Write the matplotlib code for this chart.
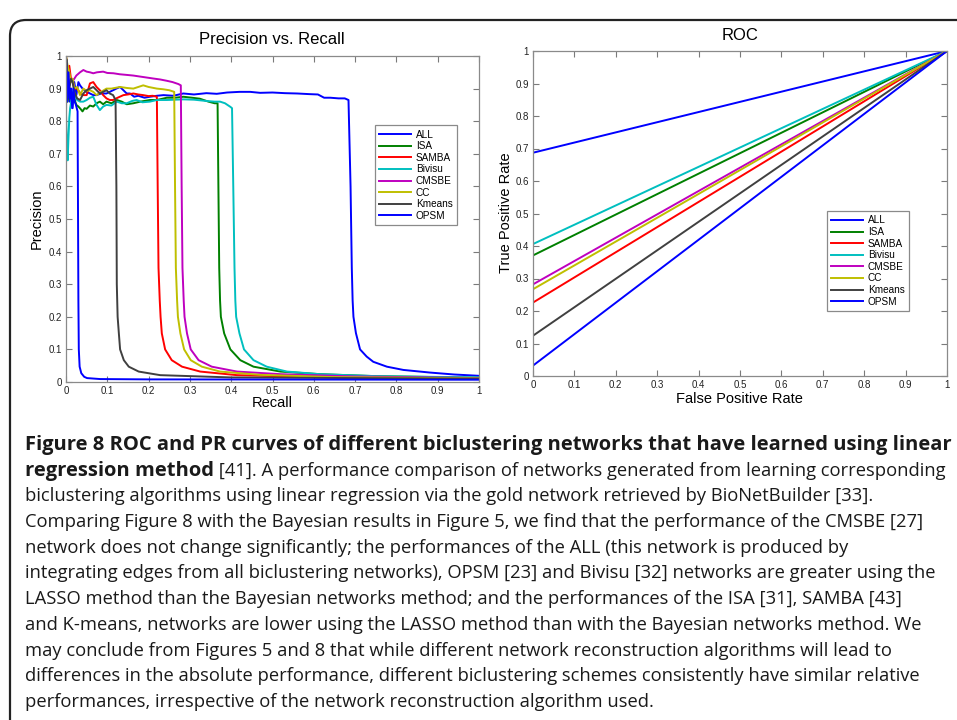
import matplotlib
matplotlib.use("Agg")
import matplotlib.pyplot as plt
from matplotlib import font_manager
from matplotlib.patches import FancyBboxPatch
from matplotlib.transforms import IdentityTransform

# ---- data ----
methods = ["ALL", "ISA", "SAMBA", "Bivisu", "CMSBE", "CC", "Kmeans", "OPSM"]

all_r = [0, 0.003, 0.006, 0.009, 0.012, 0.016, 0.02, 0.025, 0.03, 0.034, 0.04, 0.05, 0.058, 0.066,
         0.074, 0.085, 0.098, 0.106, 0.114, 0.122, 0.131, 0.139, 0.147, 0.155, 0.165, 0.175, 0.19,
         0.203, 0.22, 0.236, 0.26, 0.284, 0.31, 0.34, 0.365, 0.39, 0.42, 0.446, 0.47, 0.5, 0.53,
         0.56, 0.59, 0.61, 0.625, 0.64, 0.66, 0.675, 0.684, 0.689, 0.692, 0.694, 0.696, 0.702,
         0.712, 0.728, 0.744, 0.777, 0.817, 0.881, 0.94, 1.0]
all_p = [1.0, 0.88, 0.93, 0.86, 0.9, 0.84, 0.92, 0.88, 0.92, 0.91, 0.9, 0.89, 0.885, 0.88,
         0.88, 0.885, 0.885, 0.89, 0.895, 0.9, 0.905, 0.895, 0.885, 0.885, 0.875, 0.878, 0.872,
         0.875, 0.878, 0.88, 0.878, 0.885, 0.882, 0.886, 0.884, 0.888, 0.89, 0.89, 0.887, 0.888, 0.886,
         0.885, 0.883, 0.882, 0.872, 0.872, 0.87, 0.87, 0.865, 0.6, 0.35, 0.25, 0.2, 0.15,
         0.1, 0.078, 0.062, 0.047, 0.037, 0.029, 0.023, 0.019]

isa_r = [0, 0.004, 0.008, 0.012, 0.016, 0.02, 0.025, 0.03, 0.035, 0.04, 0.045, 0.05, 0.058, 0.066,
         0.074, 0.082, 0.09, 0.098, 0.11, 0.123, 0.135, 0.147, 0.163, 0.18, 0.203, 0.22, 0.244,
         0.265, 0.284, 0.305, 0.324, 0.345, 0.36, 0.367, 0.369, 0.371, 0.373, 0.375, 0.383, 0.398,
         0.422, 0.454, 0.519, 0.615, 0.75, 1.0]
isa_p = [1.0, 0.86, 0.9, 0.88, 0.86, 0.87, 0.85, 0.845, 0.838, 0.83, 0.84, 0.838, 0.848, 0.845,
         0.855, 0.86, 0.852, 0.86, 0.855, 0.865, 0.86, 0.852, 0.855, 0.86, 0.865, 0.865, 0.872,
         0.872, 0.875, 0.872, 0.869, 0.86, 0.855, 0.855, 0.6, 0.35, 0.25, 0.2, 0.149, 0.1,
         0.067, 0.047, 0.032, 0.024, 0.018, 0.013]

samba_r = [0, 0.004, 0.008, 0.012, 0.016, 0.02, 0.027, 0.035, 0.042, 0.05, 0.058, 0.066, 0.074,
           0.082, 0.09, 0.098, 0.106, 0.114, 0.125, 0.139, 0.15, 0.163, 0.175, 0.187, 0.2, 0.21,
           0.22, 0.222, 0.224, 0.227, 0.229, 0.232, 0.24, 0.256, 0.281, 0.325, 0.414, 0.6, 1.0]
samba_p = [1.0, 0.95, 0.97, 0.93, 0.93, 0.9, 0.9, 0.885, 0.88, 0.88, 0.916, 0.92, 0.905,
           0.895, 0.88, 0.87, 0.865, 0.865, 0.872, 0.88, 0.882, 0.885, 0.882, 0.88, 0.877, 0.878,
           0.875, 0.6, 0.35, 0.25, 0.2, 0.149, 0.1, 0.067, 0.047, 0.032, 0.021, 0.015, 0.011]

bivisu_r = [0, 0.002, 0.004, 0.006, 0.008, 0.01, 0.014, 0.018, 0.022, 0.027, 0.034, 0.042, 0.05,
            0.058, 0.066, 0.074, 0.082, 0.09, 0.098, 0.11, 0.123, 0.135, 0.147, 0.16, 0.171, 0.185,
            0.203, 0.22, 0.244, 0.265, 0.284, 0.31, 0.34, 0.36, 0.373, 0.385, 0.398, 0.402, 0.405,
            0.408, 0.41, 0.412, 0.42, 0.431, 0.454, 0.486, 0.535, 0.615, 0.75, 1.0]
bivisu_p = [0.82, 0.74, 0.68, 0.75, 0.81, 0.84, 0.87, 0.896, 0.88, 0.865, 0.86, 0.86, 0.865,
            0.872, 0.875, 0.85, 0.834, 0.845, 0.85, 0.848, 0.86, 0.855, 0.855, 0.862, 0.865, 0.858,
            0.86, 0.865, 0.865, 0.866, 0.867, 0.866, 0.862, 0.86, 0.86, 0.855, 0.844, 0.84, 0.6,
            0.35, 0.25, 0.2, 0.149, 0.1, 0.067, 0.047, 0.032, 0.024, 0.018, 0.014]

cmsbe_r = [0, 0.006, 0.012, 0.018, 0.025, 0.034, 0.042, 0.05, 0.058, 0.066, 0.075, 0.09, 0.1,
           0.115, 0.13, 0.147, 0.163, 0.179, 0.195, 0.211, 0.228, 0.244, 0.258, 0.272, 0.278, 0.28,
           0.282, 0.285, 0.287, 0.293, 0.302, 0.321, 0.353, 0.414, 0.519, 0.7, 1.0]
cmsbe_p = [0.95, 0.9, 0.93, 0.926, 0.94, 0.95, 0.957, 0.952, 0.95, 0.947, 0.95, 0.952, 0.948,
           0.947, 0.944, 0.942, 0.94, 0.937, 0.934, 0.931, 0.928, 0.924, 0.92, 0.914, 0.91, 0.6,
           0.35, 0.25, 0.2, 0.149, 0.1, 0.067, 0.047, 0.032, 0.024, 0.017, 0.012]

cc_r = [0, 0.004, 0.008, 0.012, 0.016, 0.02, 0.027, 0.034, 0.042, 0.05, 0.058, 0.066, 0.074, 0.085,
        0.098, 0.11, 0.131, 0.147, 0.163, 0.175, 0.187, 0.2, 0.22, 0.235, 0.25, 0.262, 0.264, 0.266,
        0.269, 0.271, 0.277, 0.286, 0.302, 0.329, 0.373, 0.47, 0.65, 1.0]
cc_p = [1.0, 0.97, 0.95, 0.92, 0.93, 0.9, 0.905, 0.88, 0.9, 0.893, 0.895, 0.89, 0.88, 0.89,
        0.9, 0.9, 0.905, 0.902, 0.9, 0.905, 0.91, 0.905, 0.9, 0.898, 0.895, 0.89, 0.6, 0.35,
        0.25, 0.2, 0.149, 0.1, 0.067, 0.047, 0.032, 0.022, 0.015, 0.011]

kmeans_r = [0, 0.001, 0.004, 0.008, 0.012, 0.016, 0.02, 0.027, 0.034, 0.042, 0.05, 0.058, 0.066,
            0.074, 0.082, 0.09, 0.098, 0.106, 0.114, 0.12, 0.122, 0.123, 0.125, 0.128, 0.131,
            0.14, 0.152, 0.176, 0.228, 0.4, 1.0]
kmeans_p = [0.81, 0.99, 0.9, 0.9, 0.93, 0.92, 0.89, 0.87, 0.865, 0.885, 0.895, 0.9, 0.905,
            0.895, 0.885, 0.89, 0.895, 0.885, 0.88, 0.865, 0.6, 0.3, 0.2, 0.149, 0.1,
            0.067, 0.047, 0.032, 0.021, 0.014, 0.01]

opsm_r = [0, 0.003, 0.006, 0.009, 0.012, 0.015, 0.018, 0.021, 0.024, 0.027, 0.028, 0.029, 0.03,
          0.031, 0.033, 0.037, 0.044, 0.051, 0.083, 0.2, 1.0]
opsm_p = [1.0, 0.86, 0.95, 0.87, 0.9, 0.84, 0.9, 0.86, 0.85, 0.835, 0.83, 0.55, 0.25,
          0.1, 0.047, 0.027, 0.016, 0.012, 0.009, 0.008, 0.007]

pr_recall = [all_r, isa_r, samba_r, bivisu_r, cmsbe_r, cc_r, kmeans_r, opsm_r]
pr_precision = [all_p, isa_p, samba_p, bivisu_p, cmsbe_p, cc_p, kmeans_p, opsm_p]

# TPR reached at FPR = 0 before the straight segment to (1, 1)
roc_tpr_at_zero = [0.687, 0.371, 0.226, 0.406, 0.282, 0.267, 0.124, 0.032]

ticks = [0, 0.1, 0.2, 0.3, 0.4, 0.5, 0.6, 0.7, 0.8, 0.9, 1]
tick_labels = ["0", "0.1", "0.2", "0.3", "0.4", "0.5", "0.6", "0.7", "0.8", "0.9", "1"]

caption_lines = [
    "Figure 8 ROC and PR curves of different biclustering networks that have learned using linear",
    "regression method",
    "biclustering algorithms using linear regression via the gold network retrieved by BioNetBuilder [33].",
    "Comparing Figure 8 with the Bayesian results in Figure 5, we find that the performance of the CMSBE [27]",
    "network does not change significantly; the performances of the ALL (this network is produced by",
    "integrating edges from all biclustering networks), OPSM [23] and Bivisu [32] networks are greater using the",
    "LASSO method than the Bayesian networks method; and the performances of the ISA [31], SAMBA [43]",
    "and K-means, networks are lower using the LASSO method than with the Bayesian networks method. We",
    "may conclude from Figures 5 and 8 that while different network reconstruction algorithms will lead to",
    "differences in the absolute performance, different biclustering schemes consistently have similar relative",
    "performances, irrespective of the network reconstruction algorithm used.",
]
caption_line2_rest = " [41]. A performance comparison of networks generated from learning corresponding"

# MATLAB default colour order
colors = ["#0000ff", "#008000", "#ff0000", "#00bfbf", "#bf00bf", "#bfbf00", "#404040", "#0000ff"]

W, H = 957, 720
plt.rcParams["font.family"] = ["Liberation Sans", "DejaVu Sans"]
fig = plt.figure(figsize=(W / 100, H / 100), dpi=100)


def px_axes(l, t, r, b):
    return fig.add_axes([l / W, 1 - b / H, (r - l) / W, (b - t) / H])


def style(ax):
    ax.set_xlim(0, 1)
    ax.set_ylim(0, 1)
    ax.set_xticks(ticks)
    ax.set_xticklabels(tick_labels)
    ax.set_yticks(ticks)
    ax.set_yticklabels(tick_labels)
    ax.tick_params(direction="in", length=4, width=0.8, top=True, right=True,
                   color="#7a7a7a", labelcolor="#222222", labelsize=7, pad=3)
    for s in ax.spines.values():
        s.set_color("#8a8a8a")
        s.set_linewidth(0.9)


def legend(ax, x, y):
    leg = ax.legend(loc="upper left", bbox_to_anchor=(x, y), borderaxespad=0, fontsize=7.2,
                    handlelength=3.2, handletextpad=0.45, labelspacing=0.16, borderpad=0.45,
                    fancybox=False, framealpha=1)
    leg.get_frame().set_edgecolor("#8a8a8a")
    leg.get_frame().set_linewidth(0.9)


# Precision vs Recall
ax1 = px_axes(66, 56, 479, 382)
for r, p, c, name in zip(pr_recall, pr_precision, colors, methods):
    ax1.plot(r, p, color=c, lw=1.4, label=name)
style(ax1)
legend(ax1, 0.748, 0.788)

# ROC
ax2 = px_axes(533, 51, 947, 376)
for t, c, name in zip(roc_tpr_at_zero, colors, methods):
    ax2.plot([0, 0, 1], [0, t, 1], color=c, lw=1.4, label=name)
style(ax2)
legend(ax2, 0.71, 0.508)

fig.text(272 / W, 1 - 40 / H, "Precision vs. Recall", ha="center", va="center", fontsize=12)
fig.text(740 / W, 1 - 35 / H, "ROC", ha="center", va="center", fontsize=12)
fig.text(272 / W, 1 - 403 / H, "Recall", ha="center", va="center", fontsize=10.5)
fig.text(37 / W, 1 - 219 / H, "Precision", ha="center", va="center", rotation=90, fontsize=10.5)
fig.text(739 / W, 1 - 399 / H, "False Positive Rate", ha="center", va="center", fontsize=10.5)
fig.text(506 / W, 1 - 213 / H, "True Positive Rate", ha="center", va="center", rotation=90,
         fontsize=10.5)

# rounded frame around the figure panel (only top/left edges show)
frame = FancyBboxPatch((10, -200), 1200, 900, boxstyle="round,pad=0,rounding_size=16",
                       transform=IdentityTransform(), fill=False, edgecolor="#222222",
                       linewidth=1.6, clip_on=False)
fig.patches.append(frame)


# caption font: first family that has a real bold face
def pick_caption_family():
    have = {}
    for f in font_manager.fontManager.ttflist:
        w = f.weight if isinstance(f.weight, int) else 400
        have.setdefault(f.name, set()).add(w >= 600)
    for name in ["Open Sans", "Noto Sans", "Lato", "Roboto", "Liberation Sans"]:
        if name in have and True in have[name]:
            return name
    return "DejaVu Sans"


cap_font = [pick_caption_family(), "DejaVu Sans"]
renderer = fig.canvas.get_renderer()
x0 = 25
base0, step = 450, 25.7


def width(t):
    return t.get_window_extent(renderer).width


texts = []
for i, line in enumerate(caption_lines):
    bold = i < 2
    t = fig.text(x0 / W, 1 - (base0 + i * step) / H, line, ha="left", va="baseline",
                 fontsize=12, family=cap_font, weight="bold" if bold else "normal",
                 color="#1a1a1a")
    texts.append(t)
rest = fig.text(0, 1 - (base0 + step) / H, caption_line2_rest, ha="left", va="baseline",
                fontsize=12, family=cap_font, color="#1a1a1a")

# bold size from the first line, regular size so the widest regular line and line 2 fit
bold_size = 12 * 927 / width(texts[0])
texts[0].set_fontsize(bold_size)
texts[1].set_fontsize(bold_size)
reg_size = 12 * 927 / width(texts[5])
rest_room = 918 - width(texts[1])
reg_size = min(reg_size, 12 * rest_room / width(rest))
for t in texts[2:]:
    t.set_fontsize(reg_size)
rest.set_fontsize(reg_size)
rest.set_x(texts[1].get_window_extent(renderer).x1 / W)

fig.savefig("out.png", dpi=100)
